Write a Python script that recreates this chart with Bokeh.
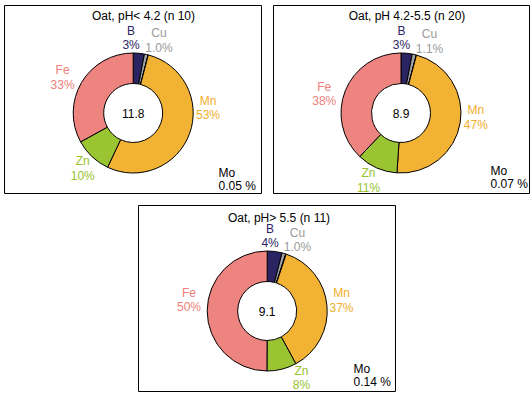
import math
from bokeh.plotting import figure
from bokeh.models import Range1d, Spacer, ColumnDataSource
from bokeh.layouts import row, column
from bokeh.embed import file_html
from bokeh.resources import INLINE
from bokeh.core.properties import value

# ---------------- data ----------------
elements = ["B", "Cu", "Mo", "Mn", "Zn", "Fe"]
titles = ["Oat, pH< 4.2 (n 10)", "Oat, pH 4.2-5.5 (n 20)", "Oat, pH> 5.5 (n 11)"]
totals = ["11.8", "8.9", "9.1"]
shares_low = [3, 1.0, 0.05, 53, 10, 33]
shares_mid = [3, 1.1, 0.07, 47, 11, 38]
shares_high = [4, 1.0, 0.14, 37, 8, 50]
all_shares = [shares_low, shares_mid, shares_high]

# ---------------- styles / layout ----------------
FONT = value("Liberation Sans")
slice_colors = {"B": "#2B2462", "Cu": "#A3A3A3", "Mo": "#000000",
                "Mn": "#F2B233", "Zn": "#9BC432", "Fe": "#EE8480"}
label_colors = {"B": "#2B2462", "Cu": "#9A9A9A", "Mo": "#000000",
                "Mn": "#F0AE2A", "Zn": "#99C22E", "Fe": "#EE7F7A"}
decimals = {"B": 0, "Cu": 1, "Mo": 2, "Mn": 0, "Zn": 0, "Fe": 0}
label_radius = {"B": 75, "Cu": 77, "Mn": 75, "Zn": 75, "Fe": 79}
# angular nudges (degrees, clockwise) to keep labels clear of each other
label_nudge = [
    {"B": -7, "Cu": 7, "Mn": -24, "Zn": -1, "Fe": -4},
    {"B": -5, "Cu": 9, "Mn": -6, "Zn": 2, "Fe": -8},
    {"B": -5, "Cu": 7, "Mn": -3, "Zn": -13, "Fe": 8},
]
panel_sizes = [(259, 190), (258, 190), (259, 188)]
donut_centers = [(129.7, 108.5), (128.5, 108.5), (129.7, 106.5)]  # from panel top-left
title_pos = [(140, 11), (134.5, 11.5), (141.5, 13)]
mo_pos = [(215, 161), (218, 159), (216, 157)]  # left x, block top y from panel top
OUTER, INNER = 60, 29.5


def make_panel(i):
    W, H = panel_sizes[i]
    fw, fh = W - 2, H - 2

    def X(px):
        return px - 1

    def Y(py):
        return fh - (py - 1)

    shares = all_shares[i]
    p = figure(width=W, height=H, x_range=Range1d(0, fw), y_range=Range1d(0, fh),
               output_backend="svg", toolbar_location=None, min_border=1,
               x_axis_location=None, y_axis_location=None)
    p.xgrid.visible = False
    p.ygrid.visible = False
    p.outline_line_color = "black"
    p.outline_line_width = 1
    p.background_fill_color = "white"
    p.border_fill_color = "white"

    cx, cy = X(donut_centers[i][0]), Y(donut_centers[i][1])
    total = sum(shares)
    starts, ends, cum = [], [], 0.0
    for s in shares:
        a0 = cum / total
        cum += s
        a1 = cum / total
        starts.append(math.pi / 2 - 2 * math.pi * a1)
        ends.append(math.pi / 2 - 2 * math.pi * a0)
    src = ColumnDataSource(dict(
        x=[cx] * len(shares), y=[cy] * len(shares),
        start=starts, end=ends,
        color=[slice_colors[e] for e in elements],
    ))
    p.annular_wedge(x="x", y="y", inner_radius=INNER, outer_radius=OUTER,
                    start_angle="start", end_angle="end", direction="anticlock",
                    fill_color="color", line_color="black", line_width=1, source=src)

    # slice labels
    lx, ly, lt, lc = [], [], [], []
    cum = 0.0
    for e, s in zip(elements, shares):
        mid = (cum + s / 2) / total * 360.0
        cum += s
        if e == "Mo":
            continue
        ang = math.radians(mid + label_nudge[i][e])
        r = label_radius[e]
        lx.append(cx + r * math.sin(ang))
        ly.append(cy + r * math.cos(ang))
        lt.append(f"{e}\n{s:.{decimals[e]}f}%")
        lc.append(label_colors[e])
    p.text(x=lx, y=ly, text=lt, text_color=lc, text_align="center",
           text_baseline="middle", text_font=FONT, text_font_size="12px",
           text_line_height=1.02)

    # tiny Mo slice noted in the corner
    mo = shares[elements.index("Mo")]
    mx, my = mo_pos[i]
    p.text(x=[X(mx)], y=[Y(my)], text=[f"Mo\n{mo:.2f} %"], text_color="black",
           text_align="left", text_baseline="top", text_font=FONT,
           text_font_size="12px", text_line_height=0.98)

    # total in the hole
    p.text(x=[cx], y=[cy], text=[totals[i]], text_color="black", text_align="center",
           text_baseline="middle", text_font=FONT, text_font_size="12px")

    # title
    tx, ty = title_pos[i]
    p.text(x=[X(tx)], y=[Y(ty)], text=[titles[i]],
           text_color="black", text_align="center", text_baseline="middle",
           text_font=FONT, text_font_size="12px")
    return p


f1, f2, f3 = make_panel(0), make_panel(1), make_panel(2)
top = row(Spacer(width=3), f1, Spacer(width=10), f2)
bottom = row(Spacer(width=137), f3)
layout = column(Spacer(height=4), top, Spacer(height=10), bottom)

open("out.html", "w").write(file_html(layout, INLINE))
